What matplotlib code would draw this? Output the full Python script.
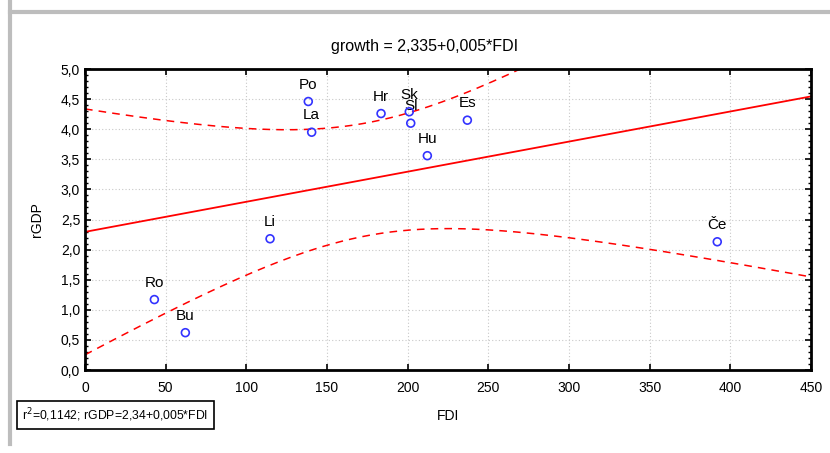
import matplotlib
matplotlib.use("Agg")
import matplotlib.pyplot as plt
from matplotlib.lines import Line2D
from matplotlib.ticker import MultipleLocator, FuncFormatter
import numpy as np

plt.rcParams['font.family'] = ['Liberation Sans', 'DejaVu Sans']

countries = ["Po", "La", "Hr", "Sk", "Sl", "Es", "Hu", "Li", "Ro", "Bu", "Če"]
fdi = [138.4, 140.5, 183.5, 201.0, 201.9, 237.0, 212.2, 114.7, 43.0, 62.2, 391.9]
rgdp = [4.46, 3.95, 4.26, 4.29, 4.10, 4.15, 3.56, 2.18, 1.17, 0.62, 2.13]

x = np.array(fdi)
y = np.array(rgdp)

# linear fit + 95% confidence band for the mean
slope, icept = np.polyfit(x, y, 1)
n = len(x)
resid = y - (icept + slope * x)
s = np.sqrt(np.sum(resid ** 2) / (n - 2))
t = 2.262
xs = np.linspace(0, 450, 300)
fit = icept + slope * xs
hw = t * s * np.sqrt(1.0 / n + (xs - x.mean()) ** 2 / np.sum((x - x.mean()) ** 2))

fig = plt.figure(figsize=(8.3, 4.53), dpi=100)
ax = fig.add_axes([85 / 830, 83 / 453, 726 / 830, 301 / 453])

ax.plot(xs, fit, color='red', lw=1.3)
ax.plot(xs, fit + hw, color='red', lw=1.1, ls=(0, (5, 4)))
ax.plot(xs, fit - hw, color='red', lw=1.1, ls=(0, (5, 4)))

ax.scatter(x, y, s=32, facecolors='none', edgecolors='#3333ff', linewidths=1.2, zorder=5)
for name, xi, yi in zip(countries, fdi, rgdp):
    ax.annotate(name, (xi, yi), xytext=(0, 7), textcoords='offset points',
                ha='center', va='bottom', fontsize=11)

ax.set_xlim(0, 450)
ax.set_ylim(0, 5)
ax.xaxis.set_major_locator(MultipleLocator(50))
ax.yaxis.set_major_locator(MultipleLocator(0.5))
ax.yaxis.set_minor_locator(MultipleLocator(0.1))
ax.yaxis.set_major_formatter(FuncFormatter(lambda v, p: f"{v:.1f}".replace('.', ',')))
ax.tick_params(which='both', direction='in', top=True, right=True, labelsize=10)
ax.tick_params(which='major', length=4, width=1.2)
ax.tick_params(which='minor', length=2, width=1)
ax.tick_params(axis='x', pad=8)
for sp in ax.spines.values():
    sp.set_linewidth(2)
ax.grid(True, which='major', color='#c8c8c8', ls=(0, (1, 2)), lw=0.8)

ax.set_xlabel("FDI", fontsize=10, labelpad=10)
ax.set_ylabel("rGDP", fontsize=10, labelpad=12)
fig.text(425 / 830, 1 - 47 / 453, "growth = 2,335+0,005*FDI", fontsize=11.5,
         ha='center', va='center')

fig.text(22 / 830, 1 - 415 / 453, r"r$^2$=0,1142; rGDP=2,34+0,005*FDI", fontsize=8.8,
         va='center', ha='left',
         bbox=dict(boxstyle='square,pad=0.45', fc='white', ec='black', lw=1.2))

# outer gray frame
fig.add_artist(Line2D([10 / 830, 10 / 830], [0.02, 1], color='#bdbdbd', lw=3, transform=fig.transFigure))
fig.add_artist(Line2D([10 / 830, 1], [1 - 12 / 453, 1 - 12 / 453], color='#bdbdbd', lw=3, transform=fig.transFigure))

fig.savefig("out.png", dpi=100)
